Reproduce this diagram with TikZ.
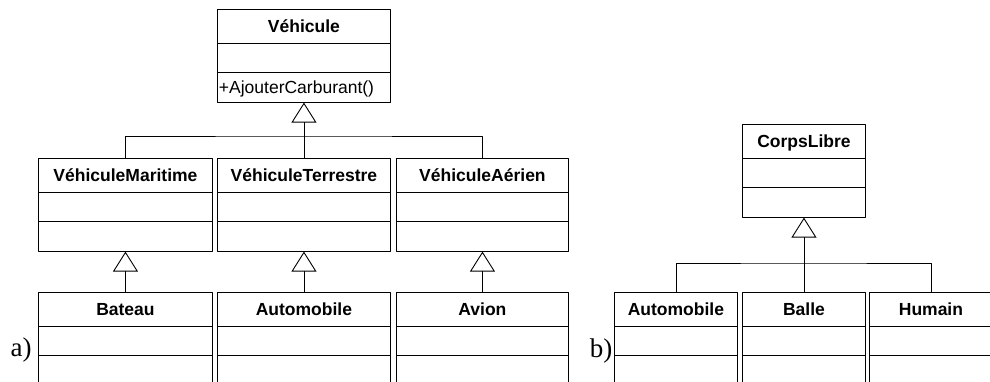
\documentclass[tikz,border=0pt]{standalone}
\usepackage{fontspec}
\setmainfont{Liberation Serif}
\setsansfont{Liberation Sans}
\usetikzlibrary{shapes.multipart,arrows.meta}
\tikzset{
  cls/.style={rectangle split, rectangle split parts=3, draw, line width=0.9pt, inner sep=0pt, anchor=north west, align=center, font=\sffamily\bfseries\fontsize{17.5}{20}\selectfont},
  inh/.style={line width=0.9pt, -{Triangle[open,width=25pt,length=20pt]}},
  bar/.style={line width=0.9pt},
  lbl/.style={font=\fontsize{27}{30}\selectfont, inner sep=0pt}
}
\newcommand{\hd}{\rule[-10.25pt]{0pt}{33pt}}
\newcommand{\rw}{\rule{0pt}{28.5pt}}

\begin{document}
\begin{tikzpicture}[x=1pt,y=-1pt,line join=round]
	\useasboundingbox (0,0) rectangle (990,382);
	% a) vehicules
	\node[cls, text width=173pt] (vh) at (217,9) {\hd Véhicule\nodepart{two}\rw\nodepart{three}\mdseries\rule[-8pt]{0pt}{28.5pt}\makebox[173pt][l]{\hspace{1.5pt}+AjouterCarburant()}};
	\node[cls, text width=174pt] (vm) at (38,158) {\hd VéhiculeMaritime\nodepart{two}\rw\nodepart{three}\rw};
	\node[cls, text width=173pt] (vt) at (217,158) {\hd VéhiculeTerrestre\nodepart{two}\rw\nodepart{three}\rw};
	\node[cls, text width=172pt] (va) at (396,158) {\hd VéhiculeAérien\nodepart{two}\rw\nodepart{three}\rw};
	\node[cls, text width=174pt] (bat) at (38,292) {\hd Bateau\nodepart{two}\rw\nodepart{three}\rw};
	\node[cls, text width=173pt] (aut) at (217,292) {\hd Automobile\nodepart{two}\rw\nodepart{three}\rw};
	\node[cls, text width=172pt] (avi) at (396,292) {\hd Avion\nodepart{two}\rw\nodepart{three}\rw};
	
	\coordinate (barA) at (303.5,136);
	\draw[inh] (vt.north) -- (vh.south);
	\draw[bar] (vm.north) |- (barA) -| (va.north);
	\draw[inh] (bat.north) -- (vm.south);
	\draw[inh] (aut.north) -- (vt.south);
	\draw[inh] (avi.north) -- (va.south);
	
	% b) corps libres
	\node[cls, text width=123pt] (cl) at (742,124) {\hd CorpsLibre\nodepart{two}\rw\nodepart{three}\rw};
	\node[cls, text width=123pt] (aut2) at (614,292) {\hd Automobile\nodepart{two}\rw\nodepart{three}\rw};
	\node[cls, text width=123pt] (bal) at (742,292) {\hd Balle\nodepart{two}\rw\nodepart{three}\rw};
	\node[cls, text width=123pt] (hum) at (869,292) {\hd Humain\nodepart{two}\rw\nodepart{three}\rw};
	
	\coordinate (barB) at (803.5,263);
	\draw[inh] (bal.north) -- (cl.south);
	\draw[bar] (aut2.north) |- (barB) -| (hum.north);
	
	\node[lbl] (la) at (21,350) {a)};
	\node[lbl] (lb) at (601,351) {b)};
\end{tikzpicture}
\end{document}
